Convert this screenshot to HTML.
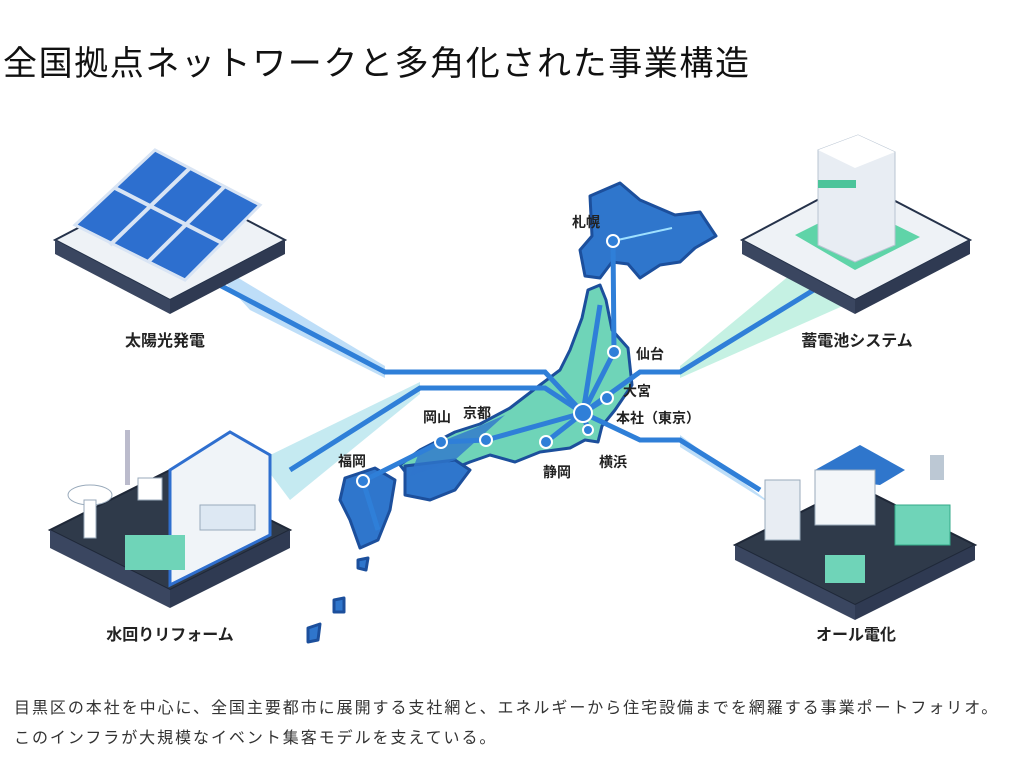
<!DOCTYPE html>
<html><head><meta charset="utf-8"><style>
body{margin:0;width:1024px;height:768px;background:#fff;overflow:hidden;font-family:"Liberation Sans","Noto Sans CJK JP",sans-serif;}
.t{position:absolute;left:3px;top:36px;font-size:34px;color:#111;letter-spacing:1.6px;}
.c{position:absolute;left:14px;top:694px;font-size:16px;color:#333;line-height:30px;letter-spacing:1.95px;white-space:nowrap;}
svg{position:absolute;left:0;top:0}
</style></head><body>
<svg width="1024" height="768" viewBox="0 0 1024 768" font-family="Liberation Sans, Noto Sans CJK JP, sans-serif">
<polygon points="200,255 250,310 385,378 385,366" fill="#6fb6f0" opacity=".45"/>
<polygon points="260,460 290,500 420,394 420,382" fill="#7fd0e0" opacity=".45"/>
<polygon points="790,275 845,305 680,378 680,366" fill="#7fe0c0" opacity=".45"/>
<polygon points="720,465 780,510 680,447 680,435" fill="#6fb6f0" opacity=".45"/>
<g stroke="#1c4f9c" stroke-width="3" stroke-linejoin="round">
<path d="M590,196 L620,183 L640,200 L675,215 L700,212 L716,236 L695,248 L680,262 L660,265 L640,278 L628,264 L612,262 L600,278 L585,276 L580,250 L592,236 Z" fill="#2f76cc"/>
<path d="M588,290 L600,285 L606,300 L612,330 L628,348 L632,385 L615,410 L602,426 L598,442 L585,440 L570,448 L540,452 L515,462 L490,455 L470,462 L450,470 L410,478 L400,465 L420,450 L455,432 L480,424 L510,408 L540,385 L560,370 L570,350 L582,318 Z" fill="#6fd4b8"/>
<path d="M405,466 L455,460 L470,470 L455,490 L430,500 L405,495 Z" fill="#2f76cc"/>
<path d="M345,478 L375,468 L395,480 L390,510 L378,540 L360,548 L350,520 L340,500 Z" fill="#2f76cc"/>
<path d="M358,560 L368,558 L366,570 L358,568 Z M334,600 L344,598 L344,612 L334,612 Z M308,628 L320,624 L318,640 L308,642 Z" fill="#2f76cc"/>
</g>
<path d="M420,450 L475,428 L505,415 L455,460 L410,476 Z" fill="#2f76cc" opacity=".8"/>
<g stroke="#2f7fd8" stroke-width="5" fill="none">
<path d="M210,280 L385,372 L545,372 L583,413"/>
<path d="M290,470 L420,388 L545,388 L583,413"/>
<path d="M830,280 L680,372 L640,372 L583,413"/>
<path d="M760,490 L680,440 L640,440 L583,413"/>
<path d="M613,241 L614,352 L583,413"/>
<path d="M583,413 L486,440 L441,442" />
<path d="M583,413 L546,442"/><path d="M583,413 L607,398"/><path d="M583,413 L588,430"/>
<path d="M583,413 L600,305"/>
<path d="M441,442 L363,481 L378,530"/>
<path d="M613,241 L672,228" stroke="#9ee0ff" stroke-width="2"/>
</g>
<g fill="#2f7fd8" stroke="#fff" stroke-width="2">
<circle cx="613" cy="241" r="6"/><circle cx="614" cy="352" r="6"/><circle cx="607" cy="398" r="6"/>
<circle cx="583" cy="413" r="9"/><circle cx="588" cy="430" r="5"/><circle cx="546" cy="442" r="6"/>
<circle cx="486" cy="440" r="6"/><circle cx="441" cy="442" r="6"/><circle cx="363" cy="481" r="6"/>
</g>
<g font-size="14" font-weight="bold" fill="#222">
<text x="572" y="227">札幌</text><text x="636" y="359">仙台</text><text x="623" y="396">大宮</text>
<text x="616" y="423">本社（東京）</text><text x="599" y="467">横浜</text><text x="543" y="477">静岡</text>
<text x="463" y="418">京都</text><text x="423" y="422">岡山</text><text x="338" y="466">福岡</text>
</g>
<polygon points="55,240 170,180 285,240 170,300" fill="#eef2f6" stroke="#25324a" stroke-width="2"/>
<polygon points="55,240 170,300 170,314 55,254" fill="#3a4660"/><polygon points="170,300 285,240 285,254 170,314" fill="#2f3a52"/>
<polygon points="75,225 155,150 260,205 185,280" fill="#2d6fcf" stroke="#d8e4f4" stroke-width="3"/>
<g stroke="#d8e4f4" stroke-width="4"><line x1="115" y1="188" x2="222" y2="243"/><line x1="110" y1="245" x2="190" y2="168"/><line x1="148" y1="262" x2="225" y2="186"/></g>
<polygon points="742,240 855,180 970,240 855,300" fill="#eef2f6" stroke="#25324a" stroke-width="2"/>
<polygon points="742,240 855,300 855,314 742,254" fill="#3a4660"/><polygon points="855,300 970,240 970,254 855,314" fill="#2f3a52"/>
<polygon points="795,235 855,205 920,237 855,270" fill="#5fd4a8"/>
<polygon points="818,150 858,135 895,152 895,245 855,262 818,245" fill="#e8edf3" stroke="#b8c4d2"/>
<polygon points="818,150 858,135 895,152 855,168" fill="#fff"/>
<rect x="818" y="180" width="38" height="8" fill="#4cc49a"/>
<polygon points="50,530 170,470 290,530 170,590" fill="#2f3a4a" stroke="#1f2838" stroke-width="2"/>
<polygon points="50,530 170,590 170,608 50,548" fill="#3a4660"/><polygon points="170,590 290,530 290,548 170,608" fill="#2f3a52"/>
<polygon points="170,470 230,432 270,455 270,535 170,585" fill="#f0f4f8" stroke="#2f6fcf" stroke-width="3"/>
<rect x="125" y="535" width="60" height="35" fill="#6fd4b8"/><rect x="200" y="505" width="55" height="25" fill="#dde8f3" stroke="#9ab"/>
<ellipse cx="90" cy="495" rx="22" ry="10" fill="#fff" stroke="#9ab"/><rect x="84" y="500" width="12" height="38" fill="#fff" stroke="#9ab"/>
<rect x="125" y="430" width="5" height="55" fill="#bbc"/><rect x="138" y="478" width="24" height="22" fill="#fff" stroke="#9ab"/>
<polygon points="735,545 855,485 975,545 855,605" fill="#2f3a4a" stroke="#1f2838" stroke-width="2"/>
<polygon points="735,545 855,605 855,620 735,560" fill="#3a4660"/><polygon points="855,605 975,545 975,560 855,620" fill="#2f3a52"/>
<polygon points="815,470 860,445 905,470 880,485 835,480" fill="#2f76cc"/>
<rect x="815" y="470" width="60" height="55" fill="#f3f6f9" stroke="#9ab"/>
<rect x="765" y="480" width="35" height="60" fill="#e8edf3" stroke="#9ab"/>
<rect x="825" y="555" width="40" height="28" fill="#6fd4b8"/><rect x="895" y="505" width="55" height="40" fill="#6fd4b8" stroke="#3a8"/>
<rect x="930" y="455" width="14" height="25" fill="#bcc8d4"/>
<g font-size="16" font-weight="bold" fill="#222" text-anchor="middle">
<text x="165" y="346">太陽光発電</text><text x="857" y="346">蓄電池システム</text>
<text x="170" y="640">水回りリフォーム</text><text x="856" y="640">オール電化</text>
</g>
</svg>
<div class="t">全国拠点ネットワークと多角化された事業構造</div>
<div class="c">目黒区の本社を中心に、全国主要都市に展開する支社網と、エネルギーから住宅設備までを網羅する事業ポートフォリオ。<br>このインフラが大規模なイベント集客モデルを支えている。</div>
</body></html>
